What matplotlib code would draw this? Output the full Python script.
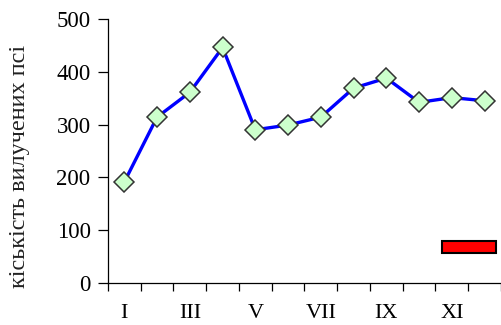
import matplotlib.pyplot as plt
from matplotlib.patches import Patch
import numpy as np

# monthly values
months = ['I', 'II', 'III', 'IV', 'V', 'VI', 'VII', 'VIII', 'IX', 'X', 'XI', 'XII']
counts = [191, 314, 361, 446, 290, 299, 314, 369, 388, 342, 351, 345]
ylabel = 'кіськість вилучених псі'

plt.rcParams['font.family'] = ['Liberation Serif', 'DejaVu Serif']

fig = plt.figure(figsize=(5.02, 3.25), dpi=100)
ax = fig.add_axes([0.215, 0.130, 0.783, 0.8115])

x = np.arange(len(months))
ax.plot(x, counts, color='#0000ff', lw=2.4, marker='D', ms=10.5,
        mfc='#ccffcc', mec='#333333', mew=1.1, zorder=3, clip_on=False)

ax.set_xlim(-0.5, len(months) - 0.5)
ax.set_ylim(0, 500)
ax.set_yticks([0, 100, 200, 300, 400, 500])

# tick marks on category boundaries, labels on every other category
ax.set_xticks(np.arange(-0.5, len(months), 1.0))
ax.set_xticklabels([])
ax.set_xticks(x[::2], minor=True)
ax.set_xticklabels(months[::2], minor=True)
ax.tick_params(axis='x', which='major', length=6, width=0.9, direction='out')
ax.tick_params(axis='x', which='minor', length=0, pad=15, labelsize=16)
ax.tick_params(axis='y', length=7, width=0.9, labelsize=16.5, pad=5.5)

for s in ['top', 'right']:
    ax.spines[s].set_visible(False)
for s in ['left', 'bottom']:
    ax.spines[s].set_linewidth(0.9)

ax.set_ylabel(ylabel, fontsize=17.5, color='#222222')
ax.yaxis.set_label_coords(-0.198, 0.44)

leg = ax.legend(handles=[Patch(facecolor='#ff0000', edgecolor='black', lw=1.5)],
                labels=[''], loc='center left', bbox_to_anchor=(0.85, 0.132),
                frameon=False, borderpad=0, borderaxespad=0, handletextpad=0,
                handlelength=3.9, handleheight=1.0, fontsize=10)

fig.savefig('out.png', dpi=100)
